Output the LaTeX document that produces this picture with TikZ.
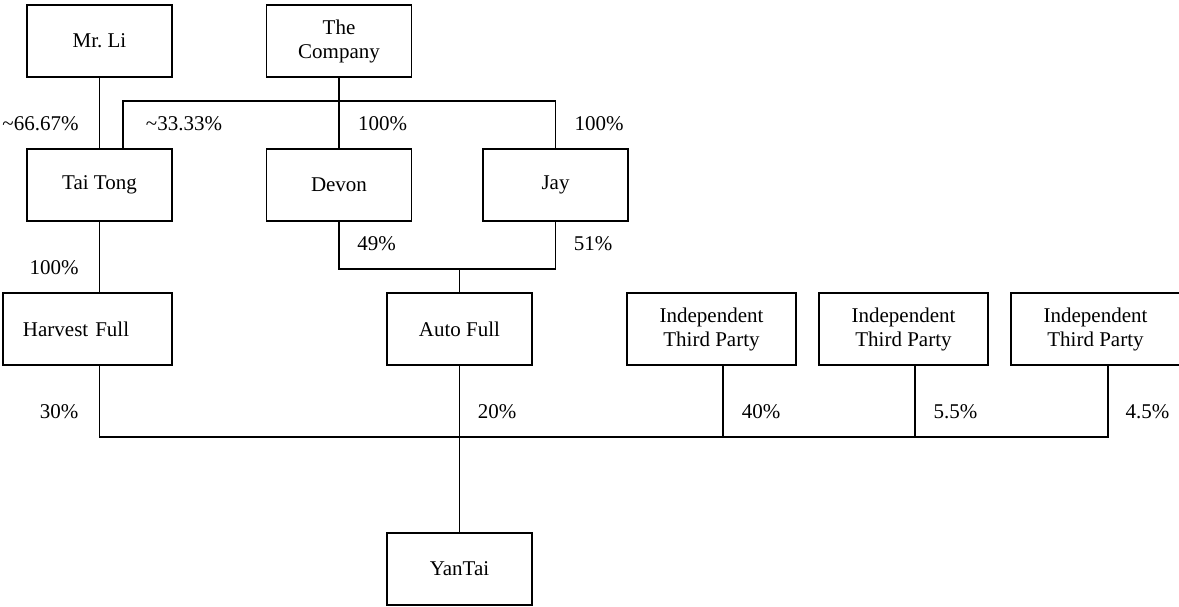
\documentclass[tikz,border=0pt]{standalone}
\usepackage{fontspec}
\setmainfont{Liberation Serif}
\frenchspacing

\begin{document}
\begin{tikzpicture}[x=1pt,y=-1pt,
  box/.style={draw,line width=1.9pt,minimum width=145pt,minimum height=72pt,
    align=center,inner sep=0pt,font=\fontsize{21}{24}\selectfont},
  widebox/.style={box,minimum width=169pt},
  pct/.style={inner sep=0pt,font=\fontsize{21}{24}\selectfont},
  link/.style={line width=1.6pt}]
\useasboundingbox (0,0) rectangle (1179,606);
% owners
\node[box] (li) at (99.5,41) {Mr. Li};
\node[box] (co) at (339,41) {The\\Company};
\node[box] (tt) at (99.5,185) {Tai Tong};
\node[box] (dv) at (339,185) {Devon};
\node[box] (jy) at (555.5,185) {Jay};
\node[box,minimum width=169pt,text width=129pt,align=left,inner xsep=20pt] (hf) at (87.5,329) {Harvest Full};
\node[box] (af) at (459.5,329) {Auto Full};
\node[widebox] (i1) at (711.5,329) {Independent\\Third Party};
\node[widebox] (i2) at (903.5,329) {Independent\\Third Party};
\node[widebox] (i3) at (1095.5,329) {Independent\\Third Party};
\node[box] (yt) at (459.5,569) {YanTai};
% connectors
\coordinate (b1) at (339,101);
\coordinate (b2) at (459.5,269);
\coordinate (b3) at (459.5,437);
\draw[link] (li) -- (tt);
\draw[link] (co) -- (dv);
\draw[link] ([xshift=23.5pt]tt.north) |- (b1) -| (jy.north);
\draw[link] (dv.south) |- (b2) -| (jy.south);
\draw[link] (b2) -- (af.north);
\draw[link] (tt) -- (tt |- hf.north);
\draw[link] (tt |- hf.south) |- (b3) -| ([xshift=12.5pt]i3.south);
\draw[link] (af) -- (yt);
\draw[link] ([xshift=11.5pt]i1.south) -- ([xshift=11.5pt]i1.south |- b3);
\draw[link] ([xshift=11.5pt]i2.south) -- ([xshift=11.5pt]i2.south |- b3);
% percentages
\node[pct] (p1) at (40.5,124) {\textasciitilde66.67\%};
\node[pct] (p2) at (184,124) {\textasciitilde33.33\%};
\node[pct] (p3) at (382.5,124) {100\%};
\node[pct] (p4) at (599,124) {100\%};
\node[pct] (p5) at (54,268) {100\%};
\node[pct] (p6) at (376.5,244) {49\%};
\node[pct] (p7) at (593,244) {51\%};
\node[pct] (p8) at (59,412) {30\%};
\node[pct] (p9) at (497,412) {20\%};
\node[pct] (p10) at (761,412) {40\%};
\node[pct] (p11) at (955.5,412) {5.5\%};
\node[pct] (p12) at (1147.5,412) {4.5\%};
\end{tikzpicture}
\end{document}
